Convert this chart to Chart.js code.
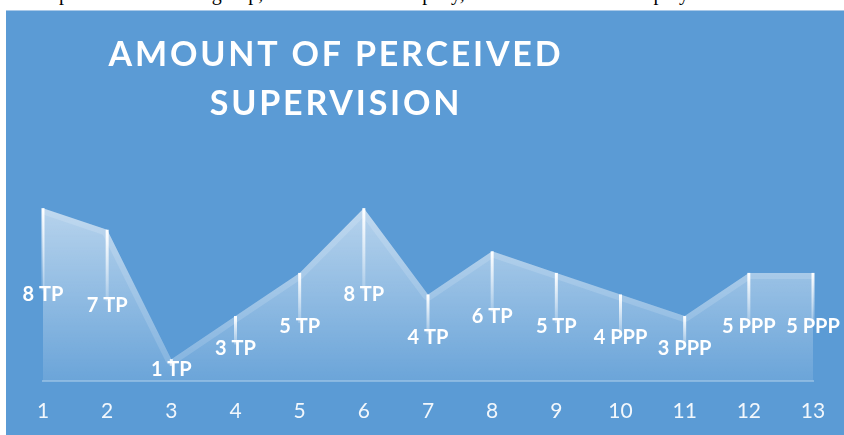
<!DOCTYPE html>
<html>
<head>
<meta charset="utf-8">
<script src="https://cdn.jsdelivr.net/npm/chart.js@4"></script>
<style>
  body { margin: 0; background: #fff; width: 844px; height: 435px; overflow: hidden; position: relative; }
  .doc { position: absolute; left: 14px; top: -17px; font-family: "Liberation Serif"; font-size: 20px; line-height: 20px; white-space: nowrap; color: #000; }
  .panel { position: absolute; left: 6px; top: 10px; width: 838px; height: 425px; background: #5b9bd5; border-top: 1px solid #a9c9e8; box-sizing: border-box; overflow: hidden; }
  .panel canvas { position: absolute; left: 0; top: -1px; }
</style>
</head>
<body>
<div class="doc">are representative of the group, one from each company, the rest of them are employees</div>
<div class="panel"><canvas id="c" width="838" height="444"></canvas></div>
<script>
const categories = ['1', '2', '3', '4', '5', '6', '7', '8', '9', '10', '11', '12', '13'];
const values = [8, 7, 1, 3, 5, 8, 4, 6, 5, 4, 3, 5, 5];
const units = ['TP', 'TP', 'TP', 'TP', 'TP', 'TP', 'TP', 'TP', 'TP', 'PPP', 'PPP', 'PPP', 'PPP'];
const titleLines = ['AMOUNT OF PERCEIVED', 'SUPERVISION'];

// light band along the top edge, drop lines and the value labels
const decorations = {
  id: 'decorations',
  afterDatasetsDraw(chart) {
    const ctx = chart.ctx;
    const pts = chart.getDatasetMeta(0).data;
    const y = chart.scales.y;
    const base = y.getPixelForValue(0);

    ctx.save();
    ctx.beginPath();
    pts.forEach((p, i) => i ? ctx.lineTo(p.x, p.y) : ctx.moveTo(p.x, p.y));
    ctx.lineTo(pts[pts.length - 1].x, base);
    ctx.lineTo(pts[0].x, base);
    ctx.closePath();
    ctx.clip();
    ctx.beginPath();
    pts.forEach((p, i) => i ? ctx.lineTo(p.x, p.y) : ctx.moveTo(p.x, p.y));
    ctx.strokeStyle = 'rgba(255,255,255,0.14)';
    ctx.lineWidth = 12;
    ctx.lineJoin = 'round';
    ctx.stroke();
    ctx.restore();

    ctx.save();
    pts.forEach((p, i) => {
      const mid = y.getPixelForValue(values[i] / 2);
      const g = ctx.createLinearGradient(0, p.y, 0, mid);
      g.addColorStop(0, 'rgba(255,255,255,1)');
      g.addColorStop(1, 'rgba(255,255,255,0.15)');
      ctx.beginPath();
      ctx.moveTo(p.x, p.y);
      ctx.lineTo(p.x, mid - 4);
      ctx.strokeStyle = g;
      ctx.lineWidth = 3;
      ctx.stroke();
    });
    ctx.font = 'bold 20px Lato';
    ctx.fillStyle = '#fff';
    ctx.textAlign = 'center';
    ctx.textBaseline = 'middle';
    pts.forEach((p, i) => {
      ctx.fillText(values[i] + ' ' + units[i], p.x, y.getPixelForValue(values[i] / 2));
    });
    ctx.restore();
  },
  afterDraw(chart) {
    const ctx = chart.ctx;
    ctx.save();
    ctx.font = 'bold 34px Lato';
    ctx.letterSpacing = '2.8px';
    ctx.fillStyle = '#fff';
    ctx.textAlign = 'center';
    ctx.textBaseline = 'middle';
    ctx.fillText(titleLines[0], 330, 45);
    ctx.fillText(titleLines[1], 330, 94);
    ctx.restore();
  }
};

new Chart(document.getElementById('c'), {
  type: 'line',
  data: {
    labels: categories,
    datasets: [{
      data: values,
      fill: 'origin',
      borderWidth: 0,
      borderColor: 'rgba(0,0,0,0)',
      pointRadius: 0,
      tension: 0,
      backgroundColor(context) {
        const chart = context.chart;
        const y = chart.scales.y;
        if (!chart.chartArea || !y) return 'rgba(255,255,255,0.3)';
        const g = chart.ctx.createLinearGradient(0, y.getPixelForValue(8), 0, y.getPixelForValue(0));
        g.addColorStop(0, 'rgba(255,255,255,0.56)');
        g.addColorStop(1, 'rgba(255,255,255,0.1)');
        return g;
      }
    }]
  },
  options: {
    responsive: false,
    animation: false,
    layout: { padding: { left: 37, right: 31, top: 155, bottom: 12 } },
    plugins: { legend: { display: false }, title: { display: false }, tooltip: { enabled: false } },
    scales: {
      x: {
        offset: false,
        grid: { display: false, drawTicks: false },
        border: { display: true, color: 'rgba(255,255,255,0.28)', width: 2 },
        ticks: { color: 'rgba(255,255,255,0.92)', font: { family: 'Lato', size: 21 }, padding: 18, maxRotation: 0 }
      },
      y: { display: false, min: 0, max: 10 }
    }
  },
  plugins: [decorations]
});
</script>
</body>
</html>
